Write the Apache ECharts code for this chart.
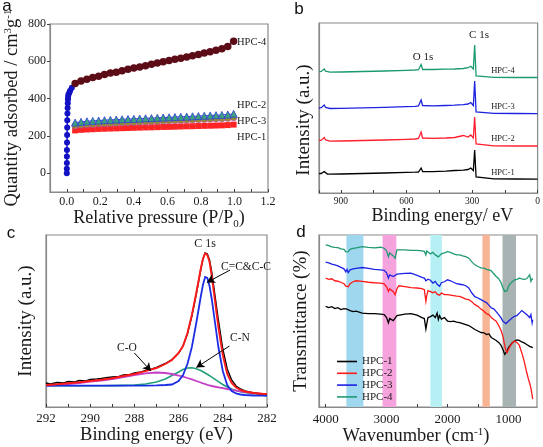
<!DOCTYPE html>
<html><head><meta charset="utf-8">
<script src="https://cdn.jsdelivr.net/npm/echarts@6/dist/echarts.min.js"></script>
<style>html,body{margin:0;padding:0;background:#fff}#c{width:543px;height:447px}</style>
</head><body><div id="c"></div>
<script>
// ---------- Panel a: N2 isotherms ----------
const aP = [0.05,0.085,0.12,0.155,0.19,0.225,0.26,0.295,0.33,0.365,0.40,0.435,0.47,0.505,0.54,0.575,0.61,0.645,0.68,0.715,0.75,0.785,0.82,0.855,0.89,0.925,0.96,0.995];
const aHPC4 = [481,495,504,513,520,530,537,542,549,557,564,570,577,584,591,598,605,611,617,623,630,637,645,652,660,668,680,708];
const aHPC2 = [272,276,279,281,283,285,286.5,288,289.5,291,292,293.5,295,296,297.5,299,300,301.5,303,304,305.5,307,308.5,310,311.5,313,315,319];
const aHPC3 = [255,259,261,263,265,266.5,268,269.5,271,272,273.5,275,276,277.5,279,280,281.5,283,284,285.5,287,288,289.5,291,292,293.5,295.5,299];
const aHPC1 = [230,233,235,236.5,238,239,240,241,242,243,244,245,246,246.5,247.5,248.5,249,250,251,252,252.5,253.5,254.5,255,256,257,258.5,261];
const aLowP = [0.0002,0.0004,0.0006,0.0008,0.001,0.0015,0.002,0.0025,0.003,0.004,0.005,0.006,0.007,0.008,0.01,0.015,0.02,0.03,0.05];
const aLowQ = [0,25,55,90,125,165,205,245,285,320,350,375,395,410,422,432,442,458,481];
const aXTicks = [0,0.2,0.4,0.6,0.8,1.0,1.2];
const aXTickMarks = [0,0.1,0.2,0.3,0.4,0.5,0.6,0.7,0.8,0.9,1.0,1.1,1.2];
const aYTicks = [0,200,400,600,800];

// ---------- Panel b: XPS survey ----------
const eB = [1000,990,982,976,970,962,950,900,800,700,600,560,545,537,533,530,526,520,480,420,380,340,318,306,298,294,291,288,286,284,281.5,279,275,200,100,0];
const bHPC1 = [19.3,19.5,20.2,21.5,20,19,18.8,19,19.5,20,20.6,20.8,21,22,25,24.5,21.5,21.2,21.4,21.8,22.5,22.8,23.5,25,23.8,22.5,24,43,43.5,42,16,14.5,14.3,14.2,14,13.9];
const bHPC2 = [52.5,52.8,53.5,55.5,53,52,51.8,52,52.5,53,53.6,54,54.5,56,61,60,55,54.5,54.7,55,55.5,57.5,56,58,56.5,55,57,76,76.5,75,49,47.5,47.3,47.2,47,47];
const bHPC3 = [85,85.3,86,88,85.5,84.7,84.5,84.7,85.2,85.7,86.3,86.6,87,88.5,93,92,87.5,87,87.2,87.5,87.8,88.3,89,90.5,89,87.5,89,112,112.5,111,81,79.8,79.7,79.6,79.5,79.4];
const bHPC4 = [121.3,121.6,122.2,124,121.8,121,120.8,121,121.5,122,122.6,123,123.3,124.5,128.5,127.5,123.5,123.3,123.5,123.8,124,124.5,125.3,126.8,125.3,124,126,148,148.5,147,117,115.8,115.7,115.6,115.5,115.5];
const bXTicks = [0,300,600,900];

// ---------- Panel c: C 1s fit ----------
const eC = [292,291.5,291,290.5,290,289.5,289,288.5,288,287.5,287,286.6,286.3,286,285.8,285.6,285.4,285.2,285,284.9,284.8,284.7,284.6,284.5,284.4,284.2,284,283.8,283.6,283.4,283.2,283,282.6,282.2,282];
const cCO = [21.3,22,23,24,25.3,26.5,28,30,31.8,33.6,34.5,34,33,31.5,30.3,29,27.6,26,24.5,23.7,23,22.2,21.5,21,20.5,19.6,18.8,18,17.2,16.4,15.7,15,13.8,12.9,12.5];
const cCN = [21.3,21.3,21.3,21.3,21.3,21.3,21.4,21.6,22,23,25,28,31.5,35,37.5,39,39.3,38.3,36.5,35.3,34,32.7,31.3,29.8,28.3,25.3,22.5,20,18,16.5,15.3,14.5,13.3,12.8,12.6];
const cCC = [21.3,21.3,21.3,21.3,21.3,21.3,21.3,21.3,21.3,21.4,21.6,22,22.5,26,32,43,60,84,110,122,130,129,121,108,92,60,36,22,16,13.5,12.5,12,11.5,11.3,11.2];
const cFit = [22,22.7,23.7,24.7,26,27.2,28.8,31,33,35.8,39,43,47,54,61,74,92,114,138,148,153.5,152,145,131,114,80,52,33,24,19.5,17,15.5,14,13.2,13];
const eCraw = [292,291.8,291.5,291.2,291,290.7,290.5,290.2,290,289.7,289.5,289.2,289,288.7,288.5,288.2,288,287.7,287.5,287.2,287,286.6,286.3,286,285.8,285.6,285.4,285.2,285,284.9,284.8,284.7,284.6,284.5,284.4,284.2,284,283.8,283.6,283.4,283.2,283,282.6,282.2,282];
const cRaw = [24,23,24.5,24,25.5,25,26.5,26,27.5,28,28.5,29.5,30,30.5,32,32.5,34,35,36.5,38,39.5,43.5,47.5,54,61,73,91,113,137,148,154,153,147,135,119,87,58,38,27,21,18,16,14,13,12.8];
const cXTicks = [282,284,286,288,290,292];
// annotation arrows (data coords): [fromE, fromI, toE, toI]
const cArrows = [[283.67,137,284.72,124.5],[283.7,61,285.2,39.5],[288.0,54,287.25,36]];

// ---------- Panel d: FTIR ----------
const wD = [4000,3950,3900,3850,3800,3750,3700,3670,3650,3630,3600,3550,3500,3400,3300,3200,3100,3040,3000,2970,2950,2920,2890,2860,2830,2800,2700,2600,2500,2420,2380,2355,2340,2320,2280,2240,2200,2170,2150,2130,2100,2050,2000,1950,1900,1850,1800,1750,1700,1650,1600,1550,1500,1450,1400,1360,1320,1280,1240,1200,1160,1120,1090,1060,1040,1020,1000,970,940,900,860,820,780,740,700,670,650,630,610,600];
const dHPC1 = [101.3,100,101,99,100,98,99,97,98.5,96.5,97,96,96.5,94.5,94,94,93.5,93,90,84.7,89,90,87,89,92,93,93.5,94,92.5,90,89,78.5,84,90,91,92.5,90,94.5,88,92,88.5,90,86.5,86,86.5,85.5,85,84,83,82,80,78,76.5,75,74.7,73,73.5,70,68.5,67,65,62,58,53,54.5,56.5,59.5,62,64.5,66.5,67.5,67,65.5,64.5,63,62,61,61.5,60,60.5];
const dHPC2 = [129.7,128.5,129,127,126.5,125.5,124,121.5,123.5,121,124,126,127,126.3,125.5,125,124.7,124,121,116.3,119,120,116,113,119,122,121,120,119.7,119,118,106.3,112,117,116,115,116,113.5,115.5,112.5,114.7,113,113,112.5,112,111.5,111.3,110,108.5,108,106,103,101.3,98.5,96.3,94,93,90,88,86.3,82,77,71.3,62,57,54.7,58,61.3,64,66.3,65,62,54.7,46,35,28,24,19,12,8];
const dHPC3 = [145.7,145,143.7,143,142,140.5,139,136,138.5,135.3,138,139,139.5,140.3,139.5,138.5,138,137.5,135,129.7,133,134,131.3,130,133.7,134,134.5,134.7,132.5,130.5,129.7,127,129,128.5,127.5,124.7,126.3,123.5,125,121.5,125,126,128,127,125.5,124,123.5,123,122,119.7,114.7,111,109.7,108,106.3,105,102.5,99.7,98.7,96,93,89.7,86.3,84.5,84,85,86.3,88,89.5,91.3,92,94.5,97,95,93,91,90,93,84.7,88];
const dHPC4 = [163,162.3,161,160.5,160.3,159,158.5,156,157.5,156.3,158.5,159.5,160,161.3,160.5,160,160.7,159.7,157,151.3,155,156,152,149.7,158,159.7,158,157.5,157.5,157,156.5,153,157,155,154,155.5,153,155,151,149.7,154,155,156.3,155.5,154,153,153,152,151.3,149.7,146,143,141.3,140,139.7,138.5,138,137,134,131.3,129,125,120,116.3,114.7,117,121.3,124,126,128,128.5,129.7,129,128.5,129,130,133,126.3,129,128];
const dBandFrom = [3660,3066,2280,1426,1096];
const dBandTo = [3380,2840,2092,1305,875];
const dXTicks = [4000,3000,2000,1000];
const dXTickMarks = [4000,3500,3000,2500,2000,1500,1000];
const names = ['HPC-1','HPC-2','HPC-3','HPC-4'];

// ---------- build ----------
const SERIF = 'Liberation Serif';
const SANS = 'Liberation Sans';
const TXT = '#1a1a1a';
const AX = '#8a8a8a';
const zip = (x, y) => x.map((v, i) => [v, y[i]]);
const bandColors = ['#9fd7ef','#f6a2dc','#b6f0f4','#f8b596','#a8b3b3'];

const axLine = {onZero:false,lineStyle:{color:AX,width:1.2}};
const nameStyle = (fs, extra) => Object.assign({fontFamily:SERIF,fontSize:fs,color:TXT,
  rich:{sup:{fontFamily:SERIF,fontSize:11,color:TXT,verticalAlign:'top',lineHeight:12},
        sub:{fontFamily:SERIF,fontSize:11,color:TXT,verticalAlign:'bottom',lineHeight:24}}}, extra||{});
const noY = {axisLabel:{show:false},axisTick:{show:false},splitLine:{show:false}};
const plain = v => String(v);

const chart = echarts.init(document.getElementById('c'));
const line = (name, xi, xs, ys, color, w, extra) => Object.assign({
  name, type:'line', xAxisIndex:xi, yAxisIndex:xi, data:zip(xs, ys),
  symbol:'none', showSymbol:false, lineStyle:{color, width:w, join:'miter'}, itemStyle:{color}, silent:true, z:3
}, extra||{});

const option = {
  animation:false,
  backgroundColor:'#fff',
  grid:[
    {left:50,top:24,width:218,height:168,show:true,borderColor:AX,borderWidth:1.2},
    {left:319,top:23,width:219,height:170,show:true,borderColor:AX,borderWidth:1.2},
    {left:46,top:235,width:221,height:172,show:true,borderColor:AX,borderWidth:1.2},
    {left:319,top:235,width:218,height:173,show:true,borderColor:AX,borderWidth:1.2}
  ],
  xAxis:[
    {gridIndex:0,type:'value',min:-0.1,max:1.2,axisLine:axLine,splitLine:{show:false},
     axisTick:{inside:true,length:3,customValues:aXTickMarks,lineStyle:{color:'#444'}},
     axisLabel:{customValues:aXTicks,formatter:v=>v.toFixed(1),fontFamily:SERIF,fontSize:12,color:TXT,margin:4},
     name:'Relative pressure (P/P{sub|0})',nameLocation:'middle',nameGap:14,nameTextStyle:nameStyle(18)},
    {gridIndex:1,type:'value',min:0,max:1000,inverse:true,interval:150,axisLine:axLine,splitLine:{show:false},
     axisTick:{inside:true,length:3,lineStyle:{color:'#444'}},
     axisLabel:{customValues:bXTicks,formatter:plain,fontFamily:SERIF,fontSize:9.5,color:TXT,margin:3},
     name:'Binding energy/ eV',nameLocation:'middle',nameGap:13,nameTextStyle:nameStyle(18,{padding:[0,0,0,28]})},
    {gridIndex:2,type:'value',min:282,max:292,inverse:true,interval:1,axisLine:axLine,splitLine:{show:false},
     axisTick:{inside:true,length:3,lineStyle:{color:'#334'}},
     axisLabel:{customValues:cXTicks,formatter:plain,fontFamily:SERIF,fontSize:13,color:TXT,margin:5},
     name:'Binding energy (eV)',nameLocation:'middle',nameGap:16,nameTextStyle:nameStyle(18.5)},
    {gridIndex:3,type:'value',min:530,max:4110,inverse:true,axisLine:axLine,splitLine:{show:false},
     axisTick:{inside:true,length:3,customValues:dXTickMarks,lineStyle:{color:'#334'}},
     axisLabel:{customValues:dXTicks,formatter:plain,fontFamily:SERIF,fontSize:13,color:TXT,margin:6},
     name:'Wavenumber (cm{sup|-1})',nameLocation:'middle',nameGap:15,nameTextStyle:nameStyle(18.5,{padding:[0,24,0,0]})}
  ],
  yAxis:[
    {gridIndex:0,type:'value',min:-100,max:800,axisLine:axLine,splitLine:{show:false},
     axisTick:{inside:false,length:3,customValues:aYTicks,lineStyle:{color:'#444'}},
     axisLabel:{customValues:aYTicks,formatter:plain,fontFamily:SERIF,fontSize:12,color:TXT,margin:4},
     name:'Quantity adsorbed / cm{sup|3}g{sup|-1}',nameLocation:'middle',nameGap:28,nameTextStyle:nameStyle(18.5)},
    Object.assign({gridIndex:1,type:'value',min:0,max:170,axisLine:axLine,
     name:'Intensity (a.u.)',nameLocation:'middle',nameGap:5,nameTextStyle:nameStyle(19,{padding:[0,24,0,0]})},noY),
    Object.assign({gridIndex:2,type:'value',min:0,max:172,axisLine:axLine,
     name:'Intensity (a.u.)',nameLocation:'middle',nameGap:10,nameTextStyle:nameStyle(19)},noY),
    Object.assign({gridIndex:3,type:'value',min:0,max:173,axisLine:axLine,
     name:'Transmittance (%)',nameLocation:'middle',nameGap:8,nameTextStyle:nameStyle(19)},noY)
  ],
  legend:{
    data:names,orient:'vertical',left:332,top:351,icon:'rect',itemWidth:20,itemHeight:1.6,itemGap:0.8,
    textStyle:{fontFamily:SERIF,fontSize:11,color:TXT},selectedMode:false
  },
  series:[
    // panel a
    {name:'a-low',type:'line',xAxisIndex:0,yAxisIndex:0,data:zip(aLowP,aLowQ),symbol:'circle',symbolSize:6,
     itemStyle:{color:'#1212c4'},lineStyle:{color:'#1212c4',width:1.5},silent:true,z:2},
    {name:'a-1',type:'line',xAxisIndex:0,yAxisIndex:0,data:zip(aP,aHPC1),symbol:'rect',symbolSize:6,
     itemStyle:{color:'#ff2424'},lineStyle:{color:'#222',width:1},silent:true,z:3},
    {name:'a-3',type:'line',xAxisIndex:0,yAxisIndex:0,data:zip(aP,aHPC3),symbol:'circle',symbolSize:6.5,
     itemStyle:{color:'#8f8f2e',borderColor:'#c040c0',borderWidth:0.6},lineStyle:{color:'#c040c0',width:1},silent:true,z:4},
    {name:'a-2',type:'line',xAxisIndex:0,yAxisIndex:0,data:zip(aP,aHPC2),symbol:'triangle',symbolSize:7,
     itemStyle:{color:'#3aa37c',borderColor:'#3340d8',borderWidth:0.8},lineStyle:{color:'#3340d8',width:1},silent:true,z:5},
    {name:'a-4',type:'line',xAxisIndex:0,yAxisIndex:0,data:zip(aP,aHPC4),symbol:'circle',symbolSize:7.5,
     itemStyle:{color:'#5c0c16'},lineStyle:{color:'#2230d8',width:1.2},silent:true,z:6},
    // panel b
    line('b-1',1,eB,bHPC1,'#000000',1.3),
    line('b-2',1,eB,bHPC2,'#ff1f2e',1.3),
    line('b-3',1,eB,bHPC3,'#1d22e0',1.3),
    line('b-4',1,eB,bHPC4,'#1b9a72',1.3),
    // panel c
    line('c-CN',2,eC,cCN,'#22a07a',1.6),
    line('c-CO',2,eC,cCO,'#c43ec8',1.8),
    line('c-CC',2,eC,cCC,'#1c2ee4',1.8),
    line('c-raw',2,eCraw,cRaw,'#000000',1.4,{
      markLine:{silent:true,symbol:['none','arrow'],symbolSize:[7,8],label:{show:false},
        lineStyle:{color:'#000',width:1,type:'solid'},
        data:cArrows.map(a=>[{coord:[a[0],a[1]]},{coord:[a[2],a[3]]}])}}),
    line('c-fit',2,eC,cFit,'#ff1a1a',1.9),
    // panel d bands
    {name:'d-bands',type:'line',xAxisIndex:3,yAxisIndex:3,data:[],silent:true,z:1,
     markArea:{silent:true,data:dBandFrom.map((f,i)=>[{xAxis:f,itemStyle:{color:bandColors[i],opacity:1}},{xAxis:dBandTo[i]}])}},
    line('HPC-1',3,wD,dHPC1,'#000000',1.3),
    line('HPC-2',3,wD,dHPC2,'#ff1a1a',1.3),
    line('HPC-3',3,wD,dHPC3,'#1d22e6',1.3),
    line('HPC-4',3,wD,dHPC4,'#1f9a72',1.3)
  ],
  graphic:[
    // panel letters
    {type:'text',x:7,y:6,style:{text:'a',fontFamily:SANS,fontSize:17,fill:'#111',align:'center',verticalAlign:'middle'}},
    {type:'text',x:299,y:9,style:{text:'b',fontFamily:SANS,fontSize:17,fill:'#111',align:'center',verticalAlign:'middle'}},
    {type:'text',x:11,y:233,style:{text:'c',fontFamily:SANS,fontSize:17,fill:'#111',align:'center',verticalAlign:'middle'}},
    {type:'text',x:301,y:232,style:{text:'d',fontFamily:SANS,fontSize:17,fill:'#111',align:'center',verticalAlign:'middle'}},
    // panel a labels
    {type:'text',x:237,y:42,style:{text:'HPC-4',fontFamily:SERIF,fontSize:10.5,fill:TXT,align:'left',verticalAlign:'middle'}},
    {type:'text',x:237,y:105,style:{text:'HPC-2',fontFamily:SERIF,fontSize:10.5,fill:TXT,align:'left',verticalAlign:'middle'}},
    {type:'text',x:237,y:121,style:{text:'HPC-3',fontFamily:SERIF,fontSize:10.5,fill:TXT,align:'left',verticalAlign:'middle'}},
    {type:'text',x:237,y:137,style:{text:'HPC-1',fontFamily:SERIF,fontSize:10.5,fill:TXT,align:'left',verticalAlign:'middle'}},
    // panel b labels
    {type:'text',x:479,y:35,style:{text:'C 1s',fontFamily:SERIF,fontSize:11,fill:TXT,align:'center',verticalAlign:'middle'}},
    {type:'text',x:423,y:57,style:{text:'O 1s',fontFamily:SERIF,fontSize:11,fill:TXT,align:'center',verticalAlign:'middle'}},
    {type:'text',x:503,y:71,style:{text:'HPC-4',fontFamily:SERIF,fontSize:8.5,fill:TXT,align:'center',verticalAlign:'middle'}},
    {type:'text',x:503,y:107,style:{text:'HPC-3',fontFamily:SERIF,fontSize:8.5,fill:TXT,align:'center',verticalAlign:'middle'}},
    {type:'text',x:503,y:139,style:{text:'HPC-2',fontFamily:SERIF,fontSize:8.5,fill:TXT,align:'center',verticalAlign:'middle'}},
    {type:'text',x:503,y:173,style:{text:'HPC-1',fontFamily:SERIF,fontSize:8.5,fill:TXT,align:'center',verticalAlign:'middle'}},
    // panel c labels
    {type:'text',x:205,y:244,style:{text:'C 1s',fontFamily:SERIF,fontSize:12,fill:TXT,align:'center',verticalAlign:'middle'}},
    {type:'text',x:221,y:267,style:{text:'C=C&C-C',fontFamily:SERIF,fontSize:11.5,fill:TXT,align:'left',verticalAlign:'middle'}},
    {type:'text',x:230,y:338,style:{text:'C-N',fontFamily:SERIF,fontSize:11.5,fill:TXT,align:'left',verticalAlign:'middle'}},
    {type:'text',x:117,y:348,style:{text:'C-O',fontFamily:SERIF,fontSize:11.5,fill:TXT,align:'left',verticalAlign:'middle'}}
  ]
};
chart.setOption(option);
</script></body></html>
